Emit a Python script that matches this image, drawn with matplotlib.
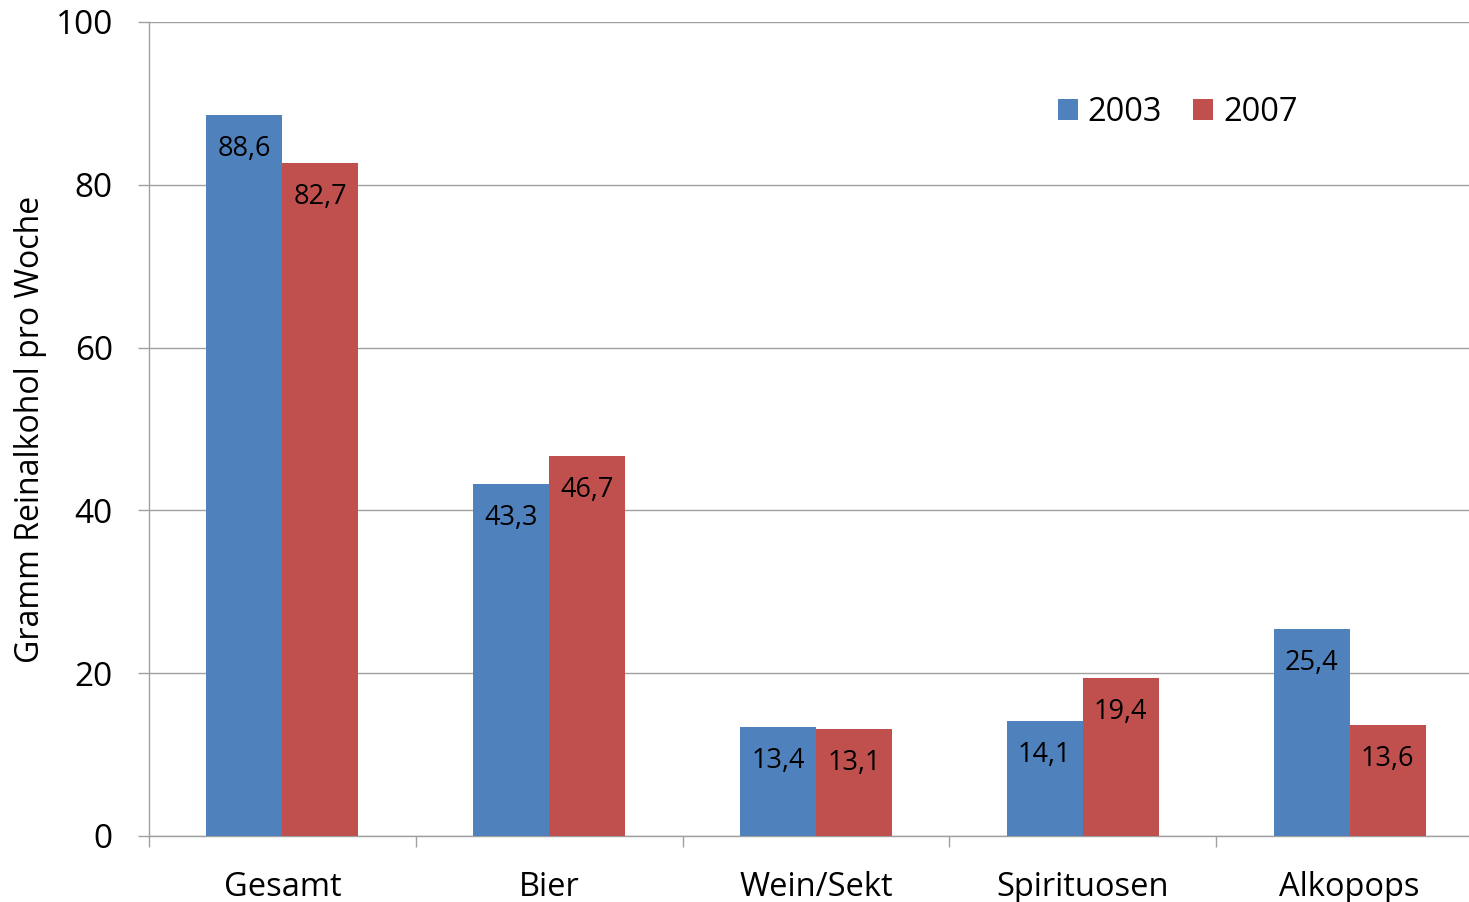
import numpy as np
import matplotlib.pyplot as plt

# Daten
kategorien = ["Gesamt", "Bier", "Wein/Sekt", "Spirituosen", "Alkopops"]
werte_2003 = [88.6, 43.3, 13.4, 14.1, 25.4]
werte_2007 = [82.7, 46.7, 13.1, 19.4, 13.6]
jahre = ["2003", "2007"]
y_ticks = [0, 20, 40, 60, 80, 100]

plt.rcParams["font.family"] = ["Open Sans", "DejaVu Sans"]

BLAU = "#4F81BD"
ROT = "#C0504D"
GRAU = "#A0A0A0"

fig = plt.figure(figsize=(14.69, 9.02), dpi=100)
ax = fig.add_axes([149 / 1469, 66 / 902, 1334 / 1469, 814 / 902])

x = np.arange(len(kategorien))
b = 0.285
bars1 = ax.bar(x - b / 2, werte_2003, b, color=BLAU, label=jahre[0], zorder=3)
bars2 = ax.bar(x + b / 2, werte_2007, b, color=ROT, label=jahre[1], zorder=3)

for bars, werte in [(bars1, werte_2003), (bars2, werte_2007)]:
    for r, v in zip(bars, werte):
        ax.annotate(f"{v:.1f}".replace(".", ","),
                    (r.get_x() + r.get_width() / 2, v),
                    xytext=(0, -24.5), textcoords="offset points",
                    ha="center", va="center", fontsize=19.5, color="black",
                    zorder=4)

ax.set_xlim(-0.5, len(kategorien) - 0.5)
ax.set_ylim(0, 100)
ax.set_yticks(y_ticks)
ax.yaxis.grid(True, color=GRAU, linewidth=1.0, zorder=0)
ax.set_axisbelow(True)

# Kategorie-Ticks zwischen den Gruppen, Beschriftung in der Mitte
ax.set_xticks(np.arange(len(kategorien) + 1) - 0.5)
ax.set_xticklabels([])
ax.set_xticks(x, minor=True)
ax.set_xticklabels(kategorien, minor=True, fontsize=23.5)
ax.tick_params(axis="x", which="minor", length=0, pad=25)
ax.tick_params(axis="x", which="major", length=8, color=GRAU, width=1.0)
ax.tick_params(axis="y", length=8, color=GRAU, width=1.0, pad=18,
               labelsize=24)

for s in ["top", "right"]:
    ax.spines[s].set_visible(False)
for s in ["left", "bottom"]:
    ax.spines[s].set_color(GRAU)
    ax.spines[s].set_linewidth(1.0)

ax.set_ylabel("Gramm Reinalkohol pro Woche", fontsize=23, labelpad=6)

ax.legend(loc="center", bbox_to_anchor=(0.771, 0.889), ncol=2,
          frameon=False, fontsize=23.5, handlelength=0.62, handleheight=0.62,
          handletextpad=0.3, columnspacing=0.95)

plt.savefig("out.png", dpi=100)
plt.close()
